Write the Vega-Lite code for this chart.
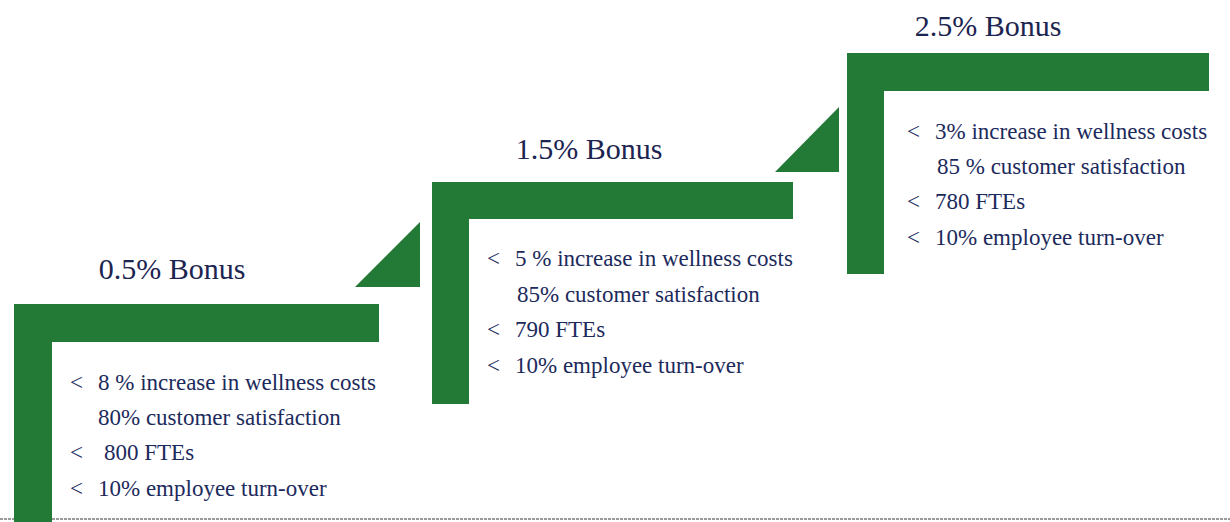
{
  "$schema": "https://vega.github.io/schema/vega-lite/v6.json",
  "width": 1230,
  "height": 522,
  "padding": 0,
  "autosize": {"type": "none"},
  "background": "white",
  "config": {"view": {"stroke": null}},
  "datasets": {
    "bars": [
      {"step": "0.5%", "part": "top", "x0": 14, "x1": 379, "y0": 304, "y1": 342},
      {"step": "0.5%", "part": "side", "x0": 14, "x1": 52, "y0": 304, "y1": 522},
      {"step": "1.5%", "part": "top", "x0": 432, "x1": 793, "y0": 182, "y1": 219},
      {"step": "1.5%", "part": "side", "x0": 432, "x1": 469, "y0": 182, "y1": 404},
      {"step": "2.5%", "part": "top", "x0": 847, "x1": 1209, "y0": 53, "y1": 91},
      {"step": "2.5%", "part": "side", "x0": 847, "x1": 884, "y0": 53, "y1": 274}
    ],
    "triangles": [
      {"tri": "a", "x": 355, "y": 287, "y2": 287},
      {"tri": "a", "x": 420, "y": 222, "y2": 287},
      {"tri": "b", "x": 775, "y": 172, "y2": 172},
      {"tri": "b", "x": 839, "y": 107, "y2": 172}
    ],
    "titles": [
      {"label": "0.5% Bonus", "x": 172, "y": 270},
      {"label": "1.5% Bonus", "x": 589, "y": 150},
      {"label": "2.5% Bonus", "x": 988, "y": 27}
    ],
    "marks": [
      {"label": "<", "x": 70, "y": 383},
      {"label": "<", "x": 70, "y": 453},
      {"label": "<", "x": 70, "y": 489},
      {"label": "<", "x": 487, "y": 259},
      {"label": "<", "x": 487, "y": 330},
      {"label": "<", "x": 487, "y": 366},
      {"label": "<", "x": 907, "y": 132},
      {"label": "<", "x": 907, "y": 202},
      {"label": "<", "x": 907, "y": 238}
    ],
    "lines": [
      {"label": "8 % increase in wellness costs", "x": 98, "y": 383},
      {"label": "80% customer satisfaction", "x": 98, "y": 418},
      {"label": "800 FTEs", "x": 104, "y": 453},
      {"label": "10% employee turn-over", "x": 98, "y": 489},
      {"label": "5 % increase in wellness costs", "x": 515, "y": 259},
      {"label": "85% customer satisfaction", "x": 517, "y": 295},
      {"label": "790 FTEs", "x": 515, "y": 330},
      {"label": "10% employee turn-over", "x": 515, "y": 366},
      {"label": "3% increase in wellness costs", "x": 935, "y": 132},
      {"label": "85 % customer satisfaction", "x": 937, "y": 167},
      {"label": "780 FTEs", "x": 935, "y": 202},
      {"label": "10% employee turn-over", "x": 935, "y": 238}
    ],
    "base": [
      {"x": 0, "y": 519},
      {"x": 1230, "y": 519}
    ]
  },
  "layer": [
    {
      "data": {"name": "base"},
      "mark": {"type": "line", "color": "#9a9a9a", "strokeWidth": 2, "strokeDash": [3, 1]},
      "encoding": {
        "x": {"field": "x", "type": "quantitative", "scale": {"domain": [0, 1230], "nice": false, "zero": false}, "axis": null},
        "y": {"field": "y", "type": "quantitative", "scale": {"domain": [0, 522], "reverse": true, "nice": false, "zero": false}, "axis": null}
      }
    },
    {
      "data": {"name": "bars"},
      "mark": {"type": "rect", "color": "#237a37"},
      "encoding": {
        "x": {"field": "x0", "type": "quantitative"},
        "x2": {"field": "x1"},
        "y": {"field": "y0", "type": "quantitative"},
        "y2": {"field": "y1"}
      }
    },
    {
      "data": {"name": "triangles"},
      "mark": {"type": "area", "color": "#237a37", "opacity": 1},
      "encoding": {
        "x": {"field": "x", "type": "quantitative"},
        "y": {"field": "y", "type": "quantitative"},
        "y2": {"field": "y2"},
        "detail": {"field": "tri"}
      }
    },
    {
      "data": {"name": "titles"},
      "mark": {"type": "text", "font": "Liberation Serif", "fontSize": 30, "color": "#1c2450", "align": "center", "baseline": "middle"},
      "encoding": {
        "x": {"field": "x", "type": "quantitative"},
        "y": {"field": "y", "type": "quantitative"},
        "text": {"field": "label"}
      }
    },
    {
      "data": {"name": "marks"},
      "mark": {"type": "text", "font": "Liberation Serif", "fontSize": 23, "color": "#1c2a5c", "align": "left", "baseline": "middle"},
      "encoding": {
        "x": {"field": "x", "type": "quantitative"},
        "y": {"field": "y", "type": "quantitative"},
        "text": {"field": "label"}
      }
    },
    {
      "data": {"name": "lines"},
      "mark": {"type": "text", "font": "Liberation Serif", "fontSize": 23, "color": "#1c2a5c", "align": "left", "baseline": "middle"},
      "encoding": {
        "x": {"field": "x", "type": "quantitative"},
        "y": {"field": "y", "type": "quantitative"},
        "text": {"field": "label"}
      }
    }
  ]
}
